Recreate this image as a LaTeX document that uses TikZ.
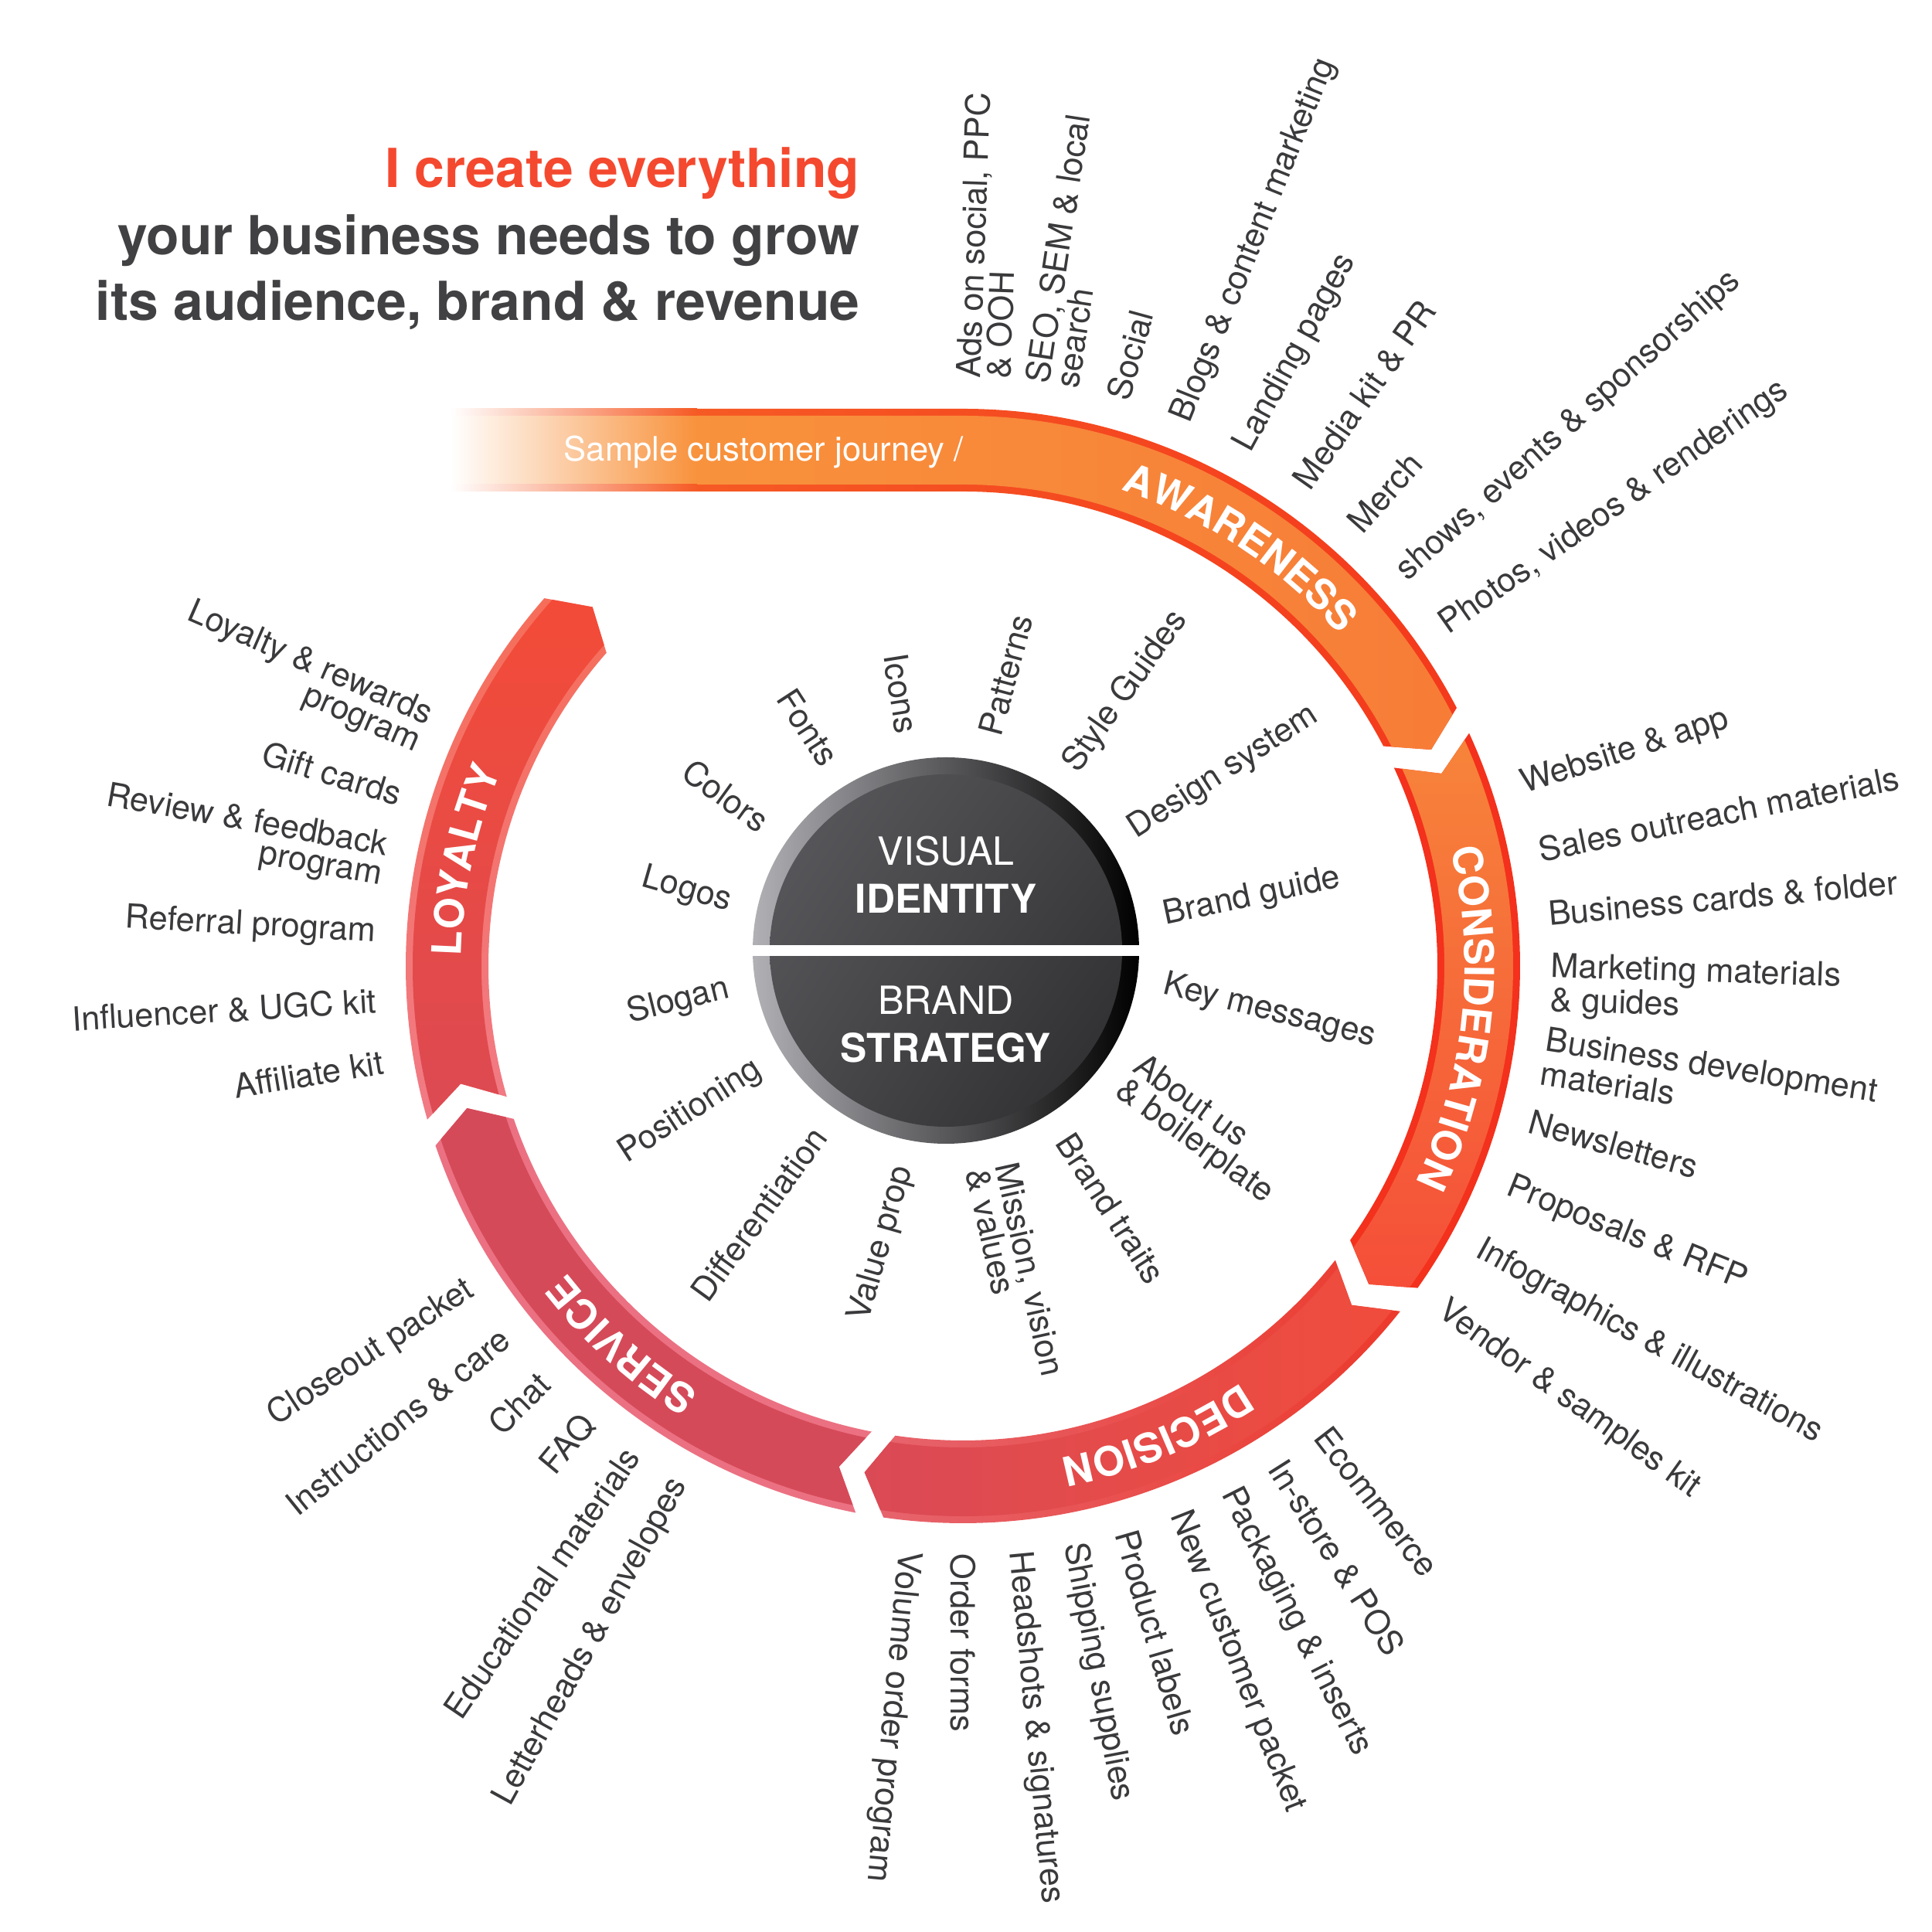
\documentclass[tikz,border=0pt]{standalone}
\usepackage{fontspec}
\setmainfont{TeX Gyre Heros}
\usetikzlibrary{decorations.text,shadings}
\definecolor{lblgray}{HTML}{3A3A3C}
\definecolor{ttlred}{HTML}{F4492F}
\definecolor{ttlgray}{HTML}{414143}
\definecolor{awA}{HTML}{F8923C}
\definecolor{awB}{HTML}{F77C37}
\definecolor{awSA}{HTML}{F65A24}
\definecolor{awSB}{HTML}{F4391C}
\definecolor{csA}{HTML}{F7853A}
\definecolor{csB}{HTML}{F54B39}
\definecolor{csS}{HTML}{F3311C}
\definecolor{deA}{HTML}{F14C3B}
\definecolor{deB}{HTML}{D94A57}
\definecolor{deSA}{HTML}{EC392B}
\definecolor{deSB}{HTML}{E66772}
\definecolor{seA}{HTML}{D54A59}
\definecolor{seS}{HTML}{EB7182}
\definecolor{loA}{HTML}{F44B37}
\definecolor{loB}{HTML}{DC4A53}
\definecolor{loSA}{HTML}{F66D58}
\definecolor{loSB}{HTML}{F17B86}
\definecolor{rimL}{HTML}{B0B0B5}
\definecolor{rimM}{HTML}{5E5E62}
\definecolor{dUL}{HTML}{5C5C60}
\definecolor{dUR}{HTML}{414143}
\definecolor{dLL}{HTML}{4A4A4D}
\definecolor{dLR}{HTML}{2B2B2D}

\newcommand\lblfont{\fontsize{12.3}{11}\selectfont}
\newcommand\ringfont{\fontsize{15}{15}\selectfont\bfseries\color{white}}
\newcommand\ttlfont{\fontsize{19.8}{24}\selectfont\bfseries}
\newcommand\disclight{\fontsize{14.3}{14.3}\selectfont}
\newcommand\discbold{\fontsize{14.6}{14.6}\selectfont\bfseries}
\newcommand\bandfont{\fontsize{12.4}{12.4}\selectfont}

\newcommand\ringseg[6]{%
 \begin{scope}
  \clip (#1:7.21) arc[start angle=#1,end angle=#2,radius=7.21] -- ({#2-2.8}:6.675) -- (#2:6.14) arc[start angle=#2,end angle=#1,radius=6.14] -- ({#1-2.8}:6.675) -- cycle;
  \shade[#3] #5 rectangle #6;
  \pgfmathsetmacro\segA{#1+4}
  \pgfmathsetmacro\segB{#2-6}
  \clip (\segA:7.12) arc[start angle=\segA,end angle=\segB,radius=7.12] -- (\segB:6.23) arc[start angle=\segB,end angle=\segA,radius=6.23] -- cycle;
  \shade[#4] #5 rectangle #6;
 \end{scope}}

\tikzset{
 lbl/.style={font=\lblfont, text=lblgray, inner sep=0pt},
 lblL/.style={lbl, anchor=west, align=left},
 lblR/.style={lbl, anchor=east, align=right},
 ringtxt/.style={decorate, decoration={text along path, text={|\ringfont|#1}, text align=center}}
}

\begin{document}
\begin{tikzpicture}
\useasboundingbox (0,0) rectangle (25,25);
\fill[white] (0,0) rectangle (25,25);
\coordinate (C) at (12.46,12.50);
\coordinate (D) at (12.24,12.70);

% title
\node[font=\ttlfont, text=ttlred, anchor=base east, inner sep=0pt] (t1) at (11.13,22.57) {I create everything};
\node[font=\ttlfont, text=ttlgray, anchor=base east, inner sep=0pt] (t2) at (11.13,21.70) {your business needs to grow};
\node[font=\ttlfont, text=ttlgray, anchor=base east, inner sep=0pt] (t3) at (11.13,20.85) {its audience, brand \& revenue};

\begin{scope}[shift={(C)}]
 % awareness
 \begin{scope}
  \clip (-3.46,7.21) -- (0,7.21) arc[start angle=90,end angle=27.6,radius=7.21] -- (24.8:6.675) -- (27.6:6.14) arc[start angle=27.6,end angle=90,radius=6.14] -- (-3.46,6.14) -- cycle;
  \shade[left color=awSA,right color=awSB] (-3.5,2.7) rectangle (6.5,7.25);
  \clip (-3.6,7.12) -- (0,7.12) arc[start angle=90,end angle=15,radius=7.12] -- (15:6.23) arc[start angle=15,end angle=90,radius=6.23] -- (-3.6,6.23) -- cycle;
  \shade[left color=awA,right color=awB] (-3.5,2.7) rectangle (6.5,7.25);
 \end{scope}
 \shade[left color=white,right color=awA] (-6.63,6.23) rectangle (-3.44,7.12);
 \shade[left color=white,right color=awSA] (-6.63,7.12) rectangle (-3.44,7.21);
 \shade[left color=white,right color=awSA] (-6.63,6.14) rectangle (-3.44,6.23);

 \ringseg{24.7}{-35.3}{top color=csS,bottom color=csS}{top color=csA,bottom color=csB}{(5.0,-4.6)}{(7.3,3.1)}
 \ringseg{-38.3}{-98.2}{left color=deSB,right color=deSA}{left color=deB,right color=deA}{(-1.6,-7.3)}{(5.8,-3.7)}
 \ringseg{-101.1}{-161.2}{left color=seS,right color=seS}{left color=seA,right color=seA}{(-7.0,-7.3)}{(-1.1,-1.8)}
 \ringseg{196}{138.7}{top color=loSA,bottom color=loSB}{top color=loA,bottom color=loB}{(-7.3,-2.1)}{(-4.0,5.0)}

 % ring labels
 \path[ringtxt=AWARENESS] (86.5:6.49) arc[start angle=86.5,end angle=26.5,radius=6.49];
 \path[ringtxt=CONSIDERATION] (24:6.49) arc[start angle=24,end angle=-36,radius=6.49];
 \path[ringtxt=DECISION] (-37.5:6.49) arc[start angle=-37.5,end angle=-97.5,radius=6.49];
 \path[ringtxt=SERVICE] (-102:6.49) arc[start angle=-102,end angle=-162,radius=6.49];
 \path[ringtxt=LOYALTY] (198:6.49) arc[start angle=198,end angle=138,radius=6.49];

 % outer labels: awareness
 \node[lblL, rotate=88.0] (a1) at (88.0:7.6) {Ads on social, PPC\\\& OOH};
 \node[lblL, rotate=81.3] (a2) at (81.3:7.6) {SEO, SEM \& local\\search};
 \node[lblL, rotate=74.7] (a3) at (74.7:7.6) {Social};
 \node[lblL, rotate=68.1] (a4) at (68.1:7.6) {Blogs \& content marketing};
 \node[lblL, rotate=61.5] (a5) at (61.5:7.6) {Landing pages};
 \node[lblL, rotate=54.9] (a6) at (54.9:7.6) {Media kit \& PR};
 \node[lblL, rotate=48.3] (a7) at (48.3:7.6) {Merch};
 \node[lblL, rotate=41.7] (a8) at (41.7:7.6) {shows, events \& sponsorships};
 \node[lblL, rotate=35.1] (a9) at (35.1:7.6) {Photos, videos \& renderings};
 % consideration
 \node[lblL, rotate=17.9] (c1) at (17.9:7.6) {Website \& app};
 \node[lblL, rotate=11.4] (c2) at (11.4:7.6) {Sales outreach materials};
 \node[lblL, rotate=5.1] (c3) at (5.1:7.6) {Business cards \& folder};
 \node[lblL, rotate=-1.9] (c4) at (-1.9:7.6) {Marketing materials\\\& guides};
 \node[lblL, rotate=-8.8] (c5) at (-8.8:7.6) {Business development\\materials};
 \node[lblL, rotate=-15.3] (c6) at (-15.3:7.6) {Newsletters};
 \node[lblL, rotate=-22.0] (c7) at (-22.0:7.6) {Proposals \& RFP};
 \node[lblL, rotate=-28.7] (c8) at (-28.7:7.6) {Infographics \& illustrations};
 \node[lblL, rotate=-35.6] (c9) at (-35.6:7.6) {Vendor \& samples kit};
 % decision
 \node[lblL, rotate=-52.3] (d1) at (-52.3:7.6) {Ecommerce};
 \node[lblL, rotate=-57.7] (d2) at (-57.7:7.6) {In-store \& POS};
 \node[lblL, rotate=-63.1] (d3) at (-63.1:7.6) {Packaging \& inserts};
 \node[lblL, rotate=-68.5] (d4) at (-68.5:7.6) {New customer packet};
 \node[lblL, rotate=-73.9] (d5) at (-73.9:7.6) {Product labels};
 \node[lblL, rotate=-79.2] (d6) at (-79.2:7.6) {Shipping supplies};
 \node[lblL, rotate=-84.6] (d7) at (-84.6:7.6) {Headshots \& signatures};
 \node[lblL, rotate=-90.0] (d8) at (-90.0:7.6) {Order forms};
 \node[lblL, rotate=-95.4] (d9) at (-95.4:7.6) {Volume order program};
 % service
 \node[lblR, rotate=61.2] (s1) at (-118.8:7.6) {Letterheads \& envelopes};
 \node[lblR, rotate=55.7] (s2) at (-124.3:7.6) {Educational materials};
 \node[lblR, rotate=50.4] (s3) at (-129.6:7.6) {FAQ};
 \node[lblR, rotate=44.6] (s4) at (-135.4:7.6) {Chat};
 \node[lblR, rotate=38.9] (s5) at (-141.1:7.6) {Instructions \& care};
 \node[lblR, rotate=33.2] (s6) at (-146.8:7.6) {Closeout packet};
 % loyalty
 \node[lblR, rotate=9.4] (l1) at (-170.6:7.6) {Affiliate kit};
 \node[lblR, rotate=3.4] (l2) at (-176.6:7.6) {Influencer \& UGC kit};
 \node[lblR, rotate=-3.2] (l3) at (176.8:7.6) {Referral program};
 \node[lblR, rotate=-10.2] (l4) at (169.8:7.6) {Review \& feedback\\program};
 \node[lblR, rotate=-17.0] (l5) at (163.0:7.6) {Gift cards};
 \node[lblR, rotate=-23.6] (l6) at (156.4:7.6) {Loyalty \& rewards\\program};
\end{scope}

\node[font=\bandfont, text=white, anchor=base west, inner sep=0pt] (sj) at (7.29,19.03) {Sample customer journey /};

% central disc
\shade[left color=rimL, middle color=rimM, right color=black] (D) circle[radius=2.5];
\shade[upper left=dUL, upper right=dUR, lower left=dLL, lower right=dLR] (D) circle[radius=2.28];
\fill[white] (9.73,12.63) rectangle (14.75,12.77);
\node[font=\disclight, text=white, anchor=base, inner sep=0pt] (vis) at (12.24,13.80) {VISUAL};
\node[font=\discbold, text=white, anchor=base, inner sep=0pt] (ide) at (12.24,13.18) {IDENTITY};
\node[font=\disclight, text=white, anchor=base, inner sep=0pt] (bra) at (12.24,11.87) {BRAND};
\node[font=\discbold, text=white, anchor=base, inner sep=0pt] (str) at (12.24,11.25) {STRATEGY};

% inner labels
\begin{scope}[shift={(D)}]
 \node[lblL, rotate=12] (i1) at (9:2.85) {Brand guide};
 \node[lblL, rotate=33] (i2) at (32.5:2.85) {Design system};
 \node[lblL, rotate=54.5] (i3) at (55.5:2.85) {Style Guides};
 \node[lblL, rotate=75] (i4) at (78.5:2.85) {Patterns};
 \node[lblR, rotate=-81] (i5) at (100:2.85) {Icons};
 \node[lblR, rotate=-57] (i6) at (121.5:2.85) {Fonts};
 \node[lblR, rotate=-36] (i7) at (145:2.85) {Colors};
 \node[lblR, rotate=-16] (i8) at (167.5:2.85) {Logos};
 \node[lblR, rotate=14] (i9) at (-170:2.85) {Slogan};
 \node[lblR, rotate=33] (i10) at (-148:2.85) {Positioning};
 \node[lblR, rotate=54] (i11) at (-125:2.85) {Differentiation};
 \node[lblR, rotate=74] (i12) at (-101:2.85) {Value prop};
 \node[lblL, rotate=-77.5] (i13) at (-78:2.85) {Mission, vision\\\& values};
 \node[lblL, rotate=-57] (i14) at (-57.5:2.85) {Brand traits};
 \node[lblL, rotate=-36] (i15) at (-34.5:2.85) {About us\\\& boilerplate};
 \node[lblL, rotate=-14] (i16) at (-9:2.85) {Key messages};
\end{scope}
\end{tikzpicture}
\end{document}
